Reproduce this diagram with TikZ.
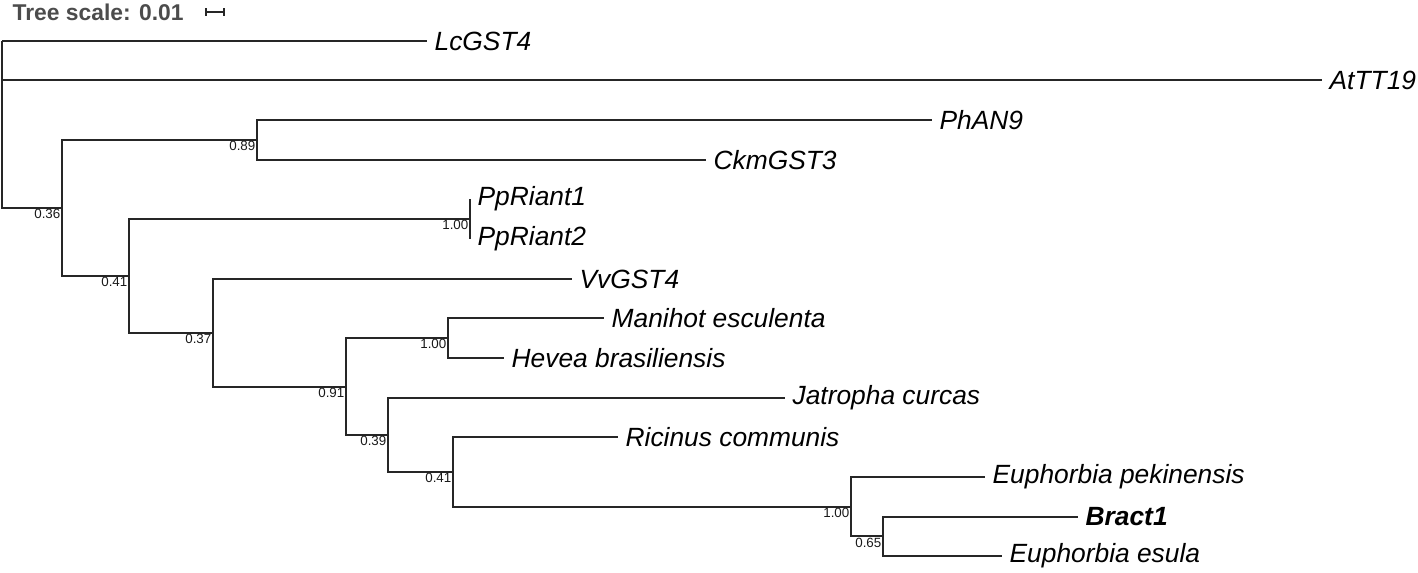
\documentclass[tikz,border=0pt]{standalone}
\usepackage{fontspec}
\setmainfont{Liberation Sans}
\usepackage{tikz}
\usetikzlibrary{
  positioning,
  calc,
  }

\begin{document}
\begin{tikzpicture}
                [x=0.02cm, y=-0.02cm, line width=0.7pt, color=black!85,
                 leaf/.style={anchor=west, inner xsep=4pt, inner ysep=0pt, text=black, font=\fontsize{15}{15}\selectfont\itshape},
                 boot/.style={anchor=north east, inner sep=0.6pt, text=black!90, font=\fontsize{7.6}{7.6}\selectfont}]
                \useasboundingbox (0,0) rectangle (1418,572);
                % scale
                \node (scaletxt) [anchor=west, inner sep=0pt, text=black!70, font=\fontsize{13}{13}\selectfont\bfseries] at (12,12) {Tree scale: 0.01};
                \draw (206,12) -- (224,12);
                \draw (206,8) -- (206,16);
                \draw (224,8) -- (224,16);
                % internal nodes
                \coordinate (root) at (2, 41);
                \coordinate (n36) at (62, 208);
                \coordinate (n89) at (257, 140);
                \coordinate (n41a) at (129, 276);
                \coordinate (n100a) at (470, 219);
                \coordinate (n37) at (213, 333);
                \coordinate (n91) at (346, 387);
                \coordinate (n100b) at (448, 338);
                \coordinate (n39) at (388, 435);
                \coordinate (n41b) at (453, 472);
                \coordinate (n100c) at (851, 507);
                \coordinate (n65) at (883, 536);
                % leaves
                \node (lcgst4) [leaf] at (427, 41) {LcGST4};
                \node (attt19) [leaf] at (1322, 80) {AtTT19};
                \node (phan9) [leaf] at (932, 120) {PhAN9};
                \node (ckmgst3) [leaf] at (706, 160) {CkmGST3};
                \node (ppriant1) [leaf] at (470, 199) {PpRiant1};
                \node (ppriant2) [leaf] at (470, 239) {PpRiant2};
                \node (vvgst4) [leaf] at (572, 279) {VvGST4};
                \node (manihot) [leaf] at (604, 318) {Manihot esculenta};
                \node (hevea) [leaf] at (504, 358) {Hevea brasiliensis};
                \node (jatropha) [leaf] at (785, 398) {Jatropha curcas};
                \node (ricinus) [leaf] at (618, 437) {Ricinus communis};
                \node (eupek) [leaf] at (985, 477) {Euphorbia pekinensis};
                \node (bract1) [leaf, font=\fontsize{15}{15}\selectfont\itshape\bfseries] at (1078, 517) {Bract1};
                \node (euesula) [leaf] at (1002, 556) {Euphorbia esula};
                % branches
                \foreach \from/\to in {root/lcgst4.west, root/attt19.west, root/n36,
                                       n36/n89, n36/n41a, n89/phan9.west, n89/ckmgst3.west,
                                       n41a/n100a, n41a/n37, n100a/ppriant1.west, n100a/ppriant2.west,
                                       n37/vvgst4.west, n37/n91, n91/n100b, n91/n39,
                                       n100b/manihot.west, n100b/hevea.west, n39/jatropha.west, n39/n41b,
                                       n41b/ricinus.west, n41b/n100c, n100c/eupek.west, n100c/n65,
                                       n65/bract1.west, n65/euesula.west}
                    \draw (\from) |- (\to);
                % support values
                \foreach \at/\val in {n36/0.36, n89/0.89, n41a/0.41, n100a/1.00, n37/0.37, n91/0.91,
                                      n100b/1.00, n39/0.39, n41b/0.41, n100c/1.00, n65/0.65}
                    \node [boot] at (\at) {\val};
                
            \end{tikzpicture}
\end{document}
